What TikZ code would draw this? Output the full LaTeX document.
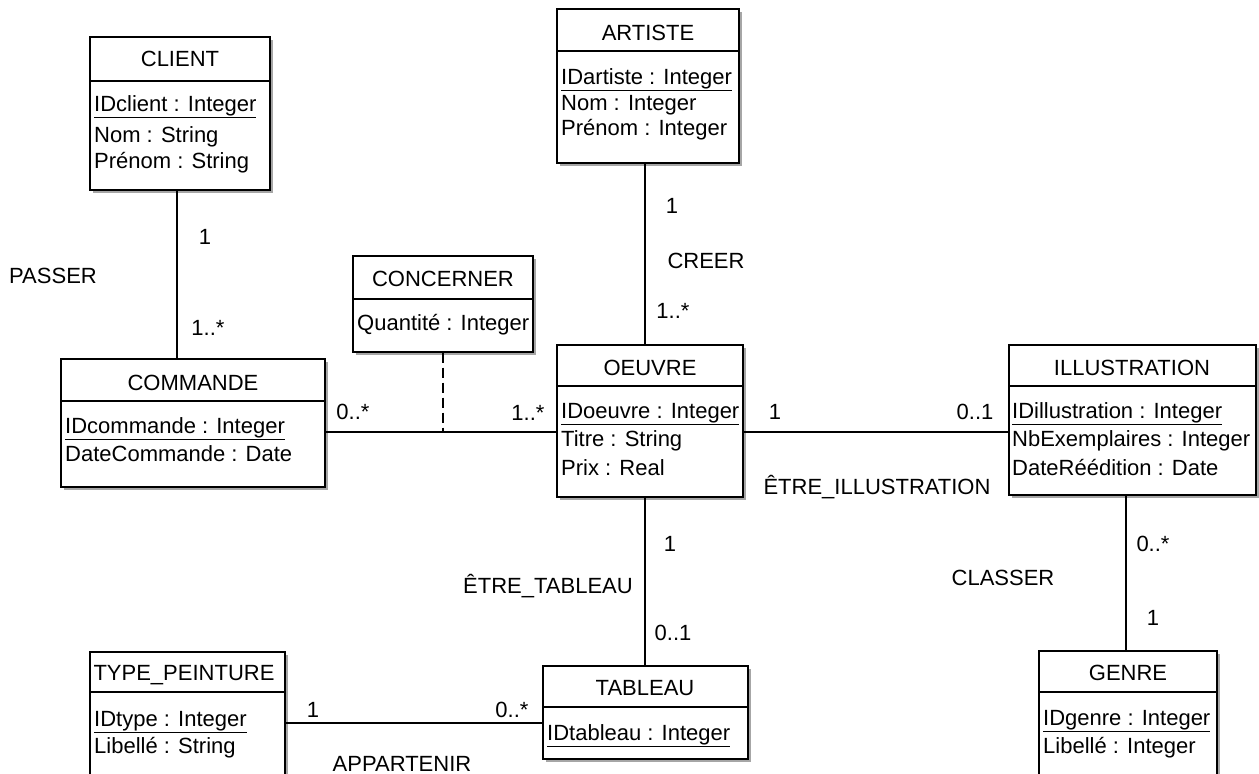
\documentclass[tikz,border=0pt]{standalone}
\usepackage{fontspec}
\setmainfont{Liberation Sans}
\usetikzlibrary{fit,shadows}
\begin{document}
\begin{tikzpicture}[x=1pt,y=-1pt,
  font={\fontsize{22pt}{26pt}\selectfont},
  classbox/.style={draw=black, line width=1.3pt, fill=white, inner sep=0pt,
    drop shadow={shadow xshift=2.5pt, shadow yshift=-2.5pt, fill=black!35, opacity=1}},
  sepline/.style={draw=black, line width=1.3pt},
  ctitle/.style={anchor=base, inner sep=0pt},
  attr/.style={anchor=base west, inner sep=0pt},
  lbl/.style={anchor=base, inner sep=0pt},
  assoc/.style={draw=black, line width=1.3pt},
  classlink/.style={draw=black, line width=1.3pt, dash pattern=on 10pt off 5pt}]
\useasboundingbox (0,0) rectangle (1259,774);
\fill[white] (0,0) rectangle (1259,774);

% CLIENT
\node[classbox, fit={(90,37) (270,190)}] (client) {};
\draw[sepline] (90,81) -- (270,81);
\node[ctitle] (clientT) at (180,66) {CLIENT};
\node[attr] (clientA1) at (94,111) {\underline{IDclient : Integer}};
\node[attr] (clientA2) at (94,142) {Nom : String};
\node[attr] (clientA3) at (94,168) {Prénom : String};

% ARTISTE
\node[classbox, fit={(557,9) (739,163)}] (artiste) {};
\draw[sepline] (557,51) -- (739,51);
\node[ctitle] (artisteT) at (648,40) {ARTISTE};
\node[attr] (artisteA1) at (561,84) {\underline{IDartiste : Integer}};
\node[attr] (artisteA2) at (561,110) {Nom : Integer};
\node[attr] (artisteA3) at (561,135) {Prénom : Integer};

% COMMANDE
\node[classbox, fit={(61,359) (325,487)}] (commande) {};
\draw[sepline] (61,401) -- (325,401);
\node[ctitle] (commandeT) at (193,390) {COMMANDE};
\node[attr] (commandeA1) at (65,433) {\underline{IDcommande : Integer}};
\node[attr] (commandeA2) at (65,461) {DateCommande : Date};

% CONCERNER
\node[classbox, fit={(353,256) (533,352)}] (concerner) {};
\draw[sepline] (353,299) -- (533,299);
\node[ctitle] (concernerT) at (443,286) {CONCERNER};
\node[attr] (concernerA1) at (357,330) {Quantité : Integer};

% OEUVRE
\node[classbox, fit={(557,345) (743,497)}] (oeuvre) {};
\draw[sepline] (557,386) -- (743,386);
\node[ctitle] (oeuvreT) at (650,375) {OEUVRE};
\node[attr] (oeuvreA1) at (561,418) {\underline{IDoeuvre : Integer}};
\node[attr] (oeuvreA2) at (561,446) {Titre : String};
\node[attr] (oeuvreA3) at (561,475) {Prix : Real};

% ILLUSTRATION
\node[classbox, fit={(1009,345) (1256,495)}] (illustration) {};
\draw[sepline] (1009,386) -- (1256,386);
\node[ctitle] (illustrationT) at (1132,375) {ILLUSTRATION};
\node[attr] (illustrationA1) at (1012,418) {\underline{IDillustration : Integer}};
\node[attr] (illustrationA2) at (1012,446) {NbExemplaires : Integer};
\node[attr] (illustrationA3) at (1012,475) {DateRéédition : Date};

% TYPE_PEINTURE
\node[classbox, fit={(90,652) (285,800)}] (typep) {};
\draw[sepline] (90,692) -- (285,692);
\node[ctitle] (typepT) at (184,680) {TYPE\_PEINTURE};
\node[attr] (typepA1) at (94,726) {\underline{IDtype : Integer}};
\node[attr] (typepA2) at (94,753) {Libellé : String};

% TABLEAU
\node[classbox, fit={(543,666) (748,759)}] (tableau) {};
\draw[sepline] (543,707) -- (748,707);
\node[ctitle] (tableauT) at (645,695) {TABLEAU};
\node[attr] (tableauA1) at (547,740) {\underline{IDtableau : Integer}};

% GENRE
\node[classbox, fit={(1039,651) (1217,800)}] (genre) {};
\draw[sepline] (1039,692) -- (1217,692);
\node[ctitle] (genreT) at (1128,680) {GENRE};
\node[attr] (genreA1) at (1043,725) {\underline{IDgenre : Integer}};
\node[attr] (genreA2) at (1043,753) {Libellé : Integer};

% helper coordinates
\coordinate (vc) at (177,0);
\coordinate (vo) at (645,0);
\coordinate (vg) at (1126,0);
\coordinate (h1) at (0,432);
\coordinate (h2) at (0,723);

% connectors
\draw[assoc] (client.south -| vc) -- (commande.north -| vc);
\draw[assoc] (commande.east |- h1) -- (oeuvre.west |- h1);
\draw[classlink] (concerner.south) -- (concerner.south |- h1);
\draw[assoc] (artiste.south -| vo) -- (oeuvre.north -| vo);
\draw[assoc] (oeuvre.east |- h1) -- (illustration.west |- h1);
\draw[assoc] (oeuvre.south -| vo) -- (tableau.north -| vo);
\draw[assoc] (typep.east |- h2) -- (tableau.west |- h2);
\draw[assoc] (illustration.south -| vg) -- (genre.north -| vg);

% labels
\node[lbl] (l1) at (205,244) {1};
\node[lbl] (l2) at (53,283) {PASSER};
\node[lbl] (l3) at (208,335) {1..*};
\node[lbl] (l4) at (353,419) {0..*};
\node[lbl] (l5) at (528,420) {1..*};
\node[lbl] (l6) at (672,213) {1};
\node[lbl] (l7) at (706,268) {CREER};
\node[lbl] (l8) at (673,318) {1..*};
\node[lbl] (l9) at (775,419) {1};
\node[lbl] (l10) at (975,419) {0..1};
\node[lbl] (l11) at (877,494) {ÊTRE\_ILLUSTRATION};
\node[lbl] (l12) at (670,551) {1};
\node[lbl] (l13) at (548,593) {ÊTRE\_TABLEAU};
\node[lbl] (l14) at (673,640) {0..1};
\node[lbl] (l15) at (1153,551) {0..*};
\node[lbl] (l16) at (1003,585) {CLASSER};
\node[lbl] (l17) at (1153,625) {1};
\node[lbl] (l18) at (313,717) {1};
\node[lbl] (l19) at (512,717) {0..*};
\node[lbl] (l20) at (402,771) {APPARTENIR};
\end{tikzpicture}
\end{document}
